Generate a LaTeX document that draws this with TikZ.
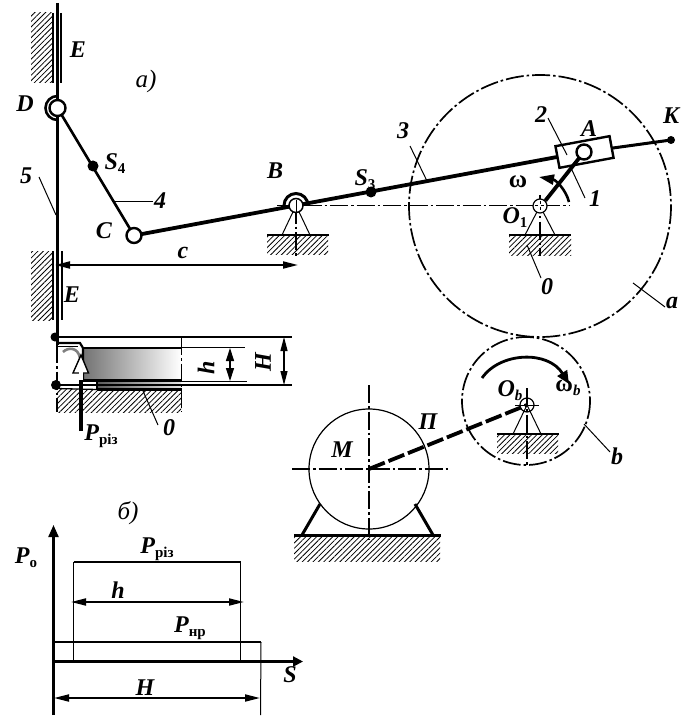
\documentclass[tikz,border=0pt]{standalone}
\usepackage{fontspec}
\setmainfont{Liberation Serif}
\usetikzlibrary{arrows.meta,patterns.meta}
\newcommand{\lowtxt}[2]{#1\raisebox{-4pt}{\fontsize{15}{15}\selectfont #2}}
\newcommand{\lowup}[2]{#1\raisebox{-4pt}{\upshape\fontsize{15}{15}\selectfont #2}}
\tikzset{
  lbl/.style={font=\bfseries\itshape\fontsize{24}{24}\selectfont,inner sep=0pt},
  ttl/.style={font=\itshape\fontsize{25}{25}\selectfont,inner sep=0pt},
  joint/.style={circle,draw,fill=white,line width=2.4pt,minimum size=13pt,inner sep=0pt},
  blob/.style={circle,fill=black,minimum size=11pt,inner sep=0pt},
  rod/.style={line width=3.8pt},
  thinline/.style={line width=1pt},
  midline/.style={line width=2.6pt},
  axisline/.style={line width=1.5pt,dash pattern=on 18pt off 3pt on 2.5pt off 3pt},
  hatched/.style={pattern={Lines[angle=45,distance=3.8pt,line width=0.8pt]}},
  dimline/.style={line width=1.8pt,{Triangle[length=15pt,width=7pt]}-{Triangle[length=15pt,width=7pt]}},
}
\begin{document}
\begin{tikzpicture}[x=1pt,y=-1pt]
\useasboundingbox (0,0) rectangle (696,719);
\path (57.5,108) coordinate (D);
\path (134,235.5) coordinate (C);
\path (93,166) coordinate (S4);
\path (296,205.5) coordinate (B);
\path (371,192) coordinate (S3);
\path (584,152) coordinate (A);
\path (671,140) coordinate (K);
\path (540,206) coordinate (O1);
\path (526,401) coordinate (bc);
\path (527,405) coordinate (Ob);
\path (369,469) coordinate (M);

\fill[hatched] (31,13) rectangle (52,83);
\fill[hatched] (31,251) rectangle (53,320);
\path (57.5,3) coordinate (sl1);
\path (57.5,345) coordinate (sl2);
\draw[midline] (sl1) -- (sl2);
\draw[line width=1.6pt] (53,13) -- (53,83);
\draw[line width=1.6pt] (61,13) -- (61,83);
\draw[line width=1.6pt] (53,251) -- (53,320);
\draw[line width=1.6pt] (62,251) -- (62,320);
\draw[midline] (D) ++(0,-12) arc[start angle=270,end angle=90,radius=12];

\draw[midline] (D) -- (C);
\draw[rod] (C) -- (A);
\draw[midline,line width=3pt] (A) -- (K);

\path (267,235) coordinate (Bb1);
\path (329,235) coordinate (Bb2);
\path (282,235) coordinate (Bt1);
\path (310,235) coordinate (Bt2);
\fill[hatched] (267,236) rectangle (328,254);
\draw[midline] (Bb1) -- (Bb2);
\draw[thinline] (Bt1) -- (B) -- (Bt2);
\path (296,258) coordinate (Bv);
\draw[axisline] (B) -- (Bv);
\path (277,205.5) coordinate (hl1);
\path (570,205.5) coordinate (hl2);
\draw[axisline] (hl1) -- (hl2);
\draw[midline,line width=3pt] (B) ++(-12,0) arc[start angle=180,end angle=360,radius=12];
\path (B) node[joint,minimum size=14pt,line width=1.5pt] (Bj){};
\path (296,200) coordinate (Bv0);
\path (296,212) coordinate (Bv1);
\draw[line width=1pt] (Bv0) -- (Bv1);

\path (509,235) coordinate (Ob1);
\path (571,235) coordinate (Ob2);
\path (525,235) coordinate (Ot1);
\path (555,235) coordinate (Ot2);
\fill[hatched] (509,236) rectangle (571,255);
\draw[midline] (Ob1) -- (Ob2);
\draw[thinline] (Ot1) -- (O1) -- (Ot2);
\path (540,195) coordinate (Ov1);
\path (540,256) coordinate (Ov2);
\draw[axisline,line width=1.2pt] (Ov1) -- (Ov2);
\path (O1) node[circle,draw,fill=white,line width=1.2pt,minimum size=14pt,inner sep=0pt] (O1j){};
\path (540,201) coordinate (O1a);
\path (540,211) coordinate (O1b);
\draw[thinline,dashed] (O1a) -- (O1b);
\path (534.5,206) coordinate (O1c);
\path (545.5,206) coordinate (O1d);
\draw[thinline,dashed] (O1c) -- (O1d);
\path (569,202) coordinate (wa1);
\path (539,177) coordinate (wa2);
\draw[midline,-{Triangle[length=15pt,width=10pt]}] (wa1) .. controls (566,190) and (556,180) .. (wa2);

\path (584.5,152) node[draw,fill=white,line width=2.4pt,minimum width=55pt,minimum height=22pt,rotate=10.5,inner sep=0pt] (sld){};
\path (O1j.45) coordinate (crk);
\draw[rod] (crk) -- (A);
\path (A) node[joint,minimum size=15pt] (Aj){};
\path (K) node[circle,fill=black,minimum size=8pt,inner sep=0pt] (Kj){};
\path (C) node[joint,minimum size=15pt] (Cj){};
\path (D) node[joint,minimum size=16pt] (Dj){};
\path (S4) node[blob] (S4j){};
\path (S3) node[blob] (S3j){};

\draw[axisline,line width=1.7pt] (O1) circle[radius=131];
\draw[axisline,line width=1.7pt] (bc) circle[radius=64];

\path (55,265) coordinate (c1);
\path (298,265) coordinate (c2);
\draw[dimline] (c1) -- (c2);
\path (146,81) node[ttl] (lba){\textit{a})};
\path (78,50) node[lbl] (lbE1){E};
\path (25,104) node[lbl] (lbD){D};
\path (115,164) node[lbl] (lbS4){\lowup{S}{4}};
\path (26,176) node[lbl] (lb5){5};
\path (39,177) coordinate (l5a);
\path (56,215) coordinate (l5b);
\draw[thinline] (l5a) -- (l5b);
\path (160,201) node[lbl] (lb4){4};
\path (113,202) coordinate (l4a);
\path (153,202) coordinate (l4b);
\draw[thinline] (l4a) -- (l4b);
\path (104,231) node[lbl] (lbC){C};
\path (183,253) node[lbl] (lbc){c};
\path (72,295) node[lbl] (lbE2){E};
\path (275,171) node[lbl] (lbB){B};
\path (365,180) node[lbl] (lbS3){\lowup{S}{3}};
\path (403,131) node[lbl] (lb3){3};
\path (410,146) coordinate (l3a);
\path (427,181) coordinate (l3b);
\draw[thinline] (l3a) -- (l3b);
\path (541,115) node[lbl] (lb2){2};
\path (548,118) coordinate (l2a);
\path (567,155) coordinate (l2b);
\draw[thinline] (l2a) -- (l2b);
\path (589,129) node[lbl] (lbA){A};
\path (671,116) node[lbl] (lbK){K};
\path (518,182) node[lbl,font=\bfseries\fontsize{25}{25}\selectfont] (lbw){ω};
\path (595,199) node[lbl] (lb1){1};
\path (585,198) coordinate (l1a);
\path (571,168) coordinate (l1b);
\draw[thinline] (l1a) -- (l1b);
\path (515,218) node[lbl] (lbO1){\lowup{O}{1}};
\path (547,287) node[lbl] (lb0a){0};
\path (527,245) coordinate (l0a);
\path (541,278) coordinate (l0b);
\draw[thinline] (l0a) -- (l0b);
\path (672,303) node[lbl] (lbaa){a};
\path (633,283) coordinate (laa);
\path (665,307) coordinate (lab);
\draw[thinline] (laa) -- (lab);

\path (53,337) coordinate (T1);
\path (292,337) coordinate (T2);
\path (53,385) coordinate (U1);
\path (292,385) coordinate (U2);
\fill[hatched] (57,389) rectangle (181,412);
\shade[left color=black!55,right color=white] (83,349) rectangle (181,380);
\shade[left color=black!65,right color=black!10] (97,381) rectangle (181,389);
\draw[midline] (T1) -- (T2);
\draw[midline] (U1) -- (U2);
\path (83,348) coordinate (w1);
\path (182,348) coordinate (w2);
\path (83,380.5) coordinate (w3);
\path (182,380.5) coordinate (w4);
\draw[midline,line width=2.2pt] (w1) -- (w2);
\draw[midline] (w3) -- (w4);
\path (97,389.5) coordinate (w5);
\path (182,389.5) coordinate (w6);
\draw[midline,line width=2.2pt] (w5) -- (w6);
\path (97,381) coordinate (w7);
\draw[midline,line width=2.2pt] (w7) -- (w5);
\path (56,388.5) coordinate (w8);
\draw[line width=1.3pt] (w8) -- (w5);
\path (56,343) coordinate (p1);
\path (80,343) coordinate (p2);
\path (56,346) coordinate (p3);
\path (78,346) coordinate (p4);
\draw[midline,line width=2.2pt] (p1) -- (p2) -- (w1) -- (w3);
\draw[thinline] (p3) -- (p4);
\path (57,345) coordinate (v1a);
\path (57,412) coordinate (v1b);
\path (181.5,337) coordinate (v2a);
\path (181.5,412) coordinate (v2b);
\draw[axisline] (v1a) -- (v1b);
\draw[axisline] (v2a) -- (v2b);
\path (T1) ++(2,0) node[circle,fill=black,minimum size=9pt,inner sep=0pt] (Tj){};
\path (U1) ++(3,0) node[circle,fill=black,minimum size=10pt,inner sep=0pt] (Uj){};
\path (63,352) coordinate (g1);
\path (80,358) coordinate (g2);
\draw[line width=2.6pt,black!50] (g1) .. controls (68,347) and (78,347) .. (g2);
\path (81,431) coordinate (P0);
\path (81,380) coordinate (P1);
\path (81,355) coordinate (P2);
\draw[line width=3.8pt] (P0) -- (P1);
\path (73,373) coordinate (Pa);
\path (88.5,373) coordinate (Pb);
\draw[fill=white,line width=1.4pt] (P2) -- (Pa) -- (Pb) -- cycle;
\path (81,372) coordinate (Pc);
\draw[line width=4pt,white] (P1) -- (Pc);
\path (101,436) node[lbl] (lbP){\lowup{P}{різ}};
\path (169,428) node[lbl] (lb0b){0};
\path (143,391) coordinate (l0c);
\path (158,425) coordinate (l0d);
\draw[thinline] (l0c) -- (l0d);
\path (182,347.5) coordinate (h1a);
\path (245,347.5) coordinate (h1b);
\path (182,381) coordinate (h2a);
\path (247,381) coordinate (h2b);
\draw[thinline] (h1a) -- (h1b);
\draw[thinline] (h2a) -- (h2b);
\path (230,348) coordinate (h3);
\path (230,381) coordinate (h4);
\draw[dimline,line width=1.2pt,{Triangle[length=13pt,width=8pt]}-{Triangle[length=13pt,width=8pt]}] (h3) -- (h4);
\path (284,337) coordinate (H3);
\path (284,385) coordinate (H4);
\draw[dimline,line width=1.2pt,{Triangle[length=14pt,width=7pt]}-{Triangle[length=14pt,width=7pt]}] (H3) -- (H4);
\path (206,368) node[lbl,rotate=90] (lbh){h};
\path (263,362) node[lbl,rotate=90] (lbH){H};

\path (292,469) coordinate (Mh1);
\path (448,469) coordinate (Mh2);
\path (369,385) coordinate (Mv1);
\path (369,540) coordinate (Mv2);
\fill[hatched] (294,536) rectangle (440,561);
\draw[line width=1.2pt] (M) circle[radius=60];
\draw[axisline] (Mh1) -- (Mh2);
\draw[axisline] (Mv1) -- (Mv2);
\path (294,535) coordinate (Mb1);
\path (441,535) coordinate (Mb2);
\draw[midline,line width=3pt] (Mb1) -- (Mb2);
\path (302,535) coordinate (Ml1);
\path (320,504) coordinate (Ml2);
\path (433,535) coordinate (Mr1);
\path (415,504) coordinate (Mr2);
\draw[midline,line width=3pt] (Ml1) -- (Ml2);
\draw[midline,line width=3pt] (Mr1) -- (Mr2);
\draw[line width=3.8pt,dash pattern=on 17pt off 4pt] (M) -- (Ob);

\path (497,434) coordinate (Oc1);
\path (559,434) coordinate (Oc2);
\path (513,434) coordinate (Od1);
\path (541,434) coordinate (Od2);
\fill[hatched] (497,435) rectangle (558,453);
\draw[midline] (Oc1) -- (Oc2);
\draw[thinline] (Od1) -- (Ob) -- (Od2);
\path (Ob) node[circle,draw,line width=1.2pt,minimum size=14pt,inner sep=0pt] (Obj){};
\path (527,388) coordinate (Ov3);
\path (527,465) coordinate (Ov4);
\draw[axisline,line width=1.4pt] (Ov3) -- (Ov4);
\path (515,405) coordinate (Oh1);
\path (539,405) coordinate (Oh2);
\draw[thinline] (Oh1) -- (Oh2);
\path (482,378) coordinate (ab1);
\path (569,384) coordinate (ab2);
\draw[midline,line width=2.8pt,-{Triangle[length=13pt,width=11pt]}] (ab1) .. controls (500,352) and (548,350) .. (ab2);
\path (342,450) node[lbl] (lbM){M};
\path (428,422) node[lbl] (lbPi){П};
\path (510,391) node[lbl] (lbOb){\lowtxt{O}{b}};
\path (568,388) node[lbl] (lbwb){\textbf{\upshape ω}\lowtxt{}{b}};
\path (617,456) node[lbl] (lbb){b};
\path (584,424) coordinate (lb1a);
\path (610,452) coordinate (lb1b);
\draw[thinline] (lb1a) -- (lb1b);

\path (128,513) node[ttl] (lbbb){б)};
\path (53.5,715) coordinate (ax1);
\path (53.5,525) coordinate (ax2);
\path (53.5,661.5) coordinate (ax3);
\path (303,661.5) coordinate (ax4);
\draw[midline,line width=2.2pt,-{Triangle[length=12pt,width=10pt]}] (ax1) -- (ax2);
\draw[midline,line width=2.2pt,-{Triangle[length=10pt,width=10pt]}] (ax3) -- (ax4);
\path (73.5,562) coordinate (r1);
\path (240.5,562) coordinate (r2);
\path (73.5,661.5) coordinate (r3);
\path (240.5,661.5) coordinate (r4);
\draw[thinline] (r3) -- (r1);
\draw[thinline] (r4) -- (r2);
\draw[midline,line width=2pt] (r1) -- (r2);
\path (71,602) coordinate (hd1);
\path (244,602) coordinate (hd2);
\draw[dimline] (hd1) -- (hd2);
\path (53.5,642) coordinate (n1);
\path (261,642) coordinate (n2);
\path (260.5,715) coordinate (n3);
\draw[midline,line width=1.8pt] (n1) -- (n2);
\draw[thinline] (n2) -- (n3);
\path (54,698) coordinate (Hd1);
\path (260,698) coordinate (Hd2);
\draw[dimline] (Hd1) -- (Hd2);
\path (26,558) node[lbl] (lbPo){\lowup{P}{о}};
\path (157,549) node[lbl] (lbPr){\lowup{P}{різ}};
\path (118,590) node[lbl] (lbh2){h};
\path (190,628) node[lbl] (lbPn){\lowup{P}{нр}};
\path (145,688) node[lbl] (lbH2){H};
\path (290,675) node[lbl] (lbS){S};
\end{tikzpicture}
\end{document}
